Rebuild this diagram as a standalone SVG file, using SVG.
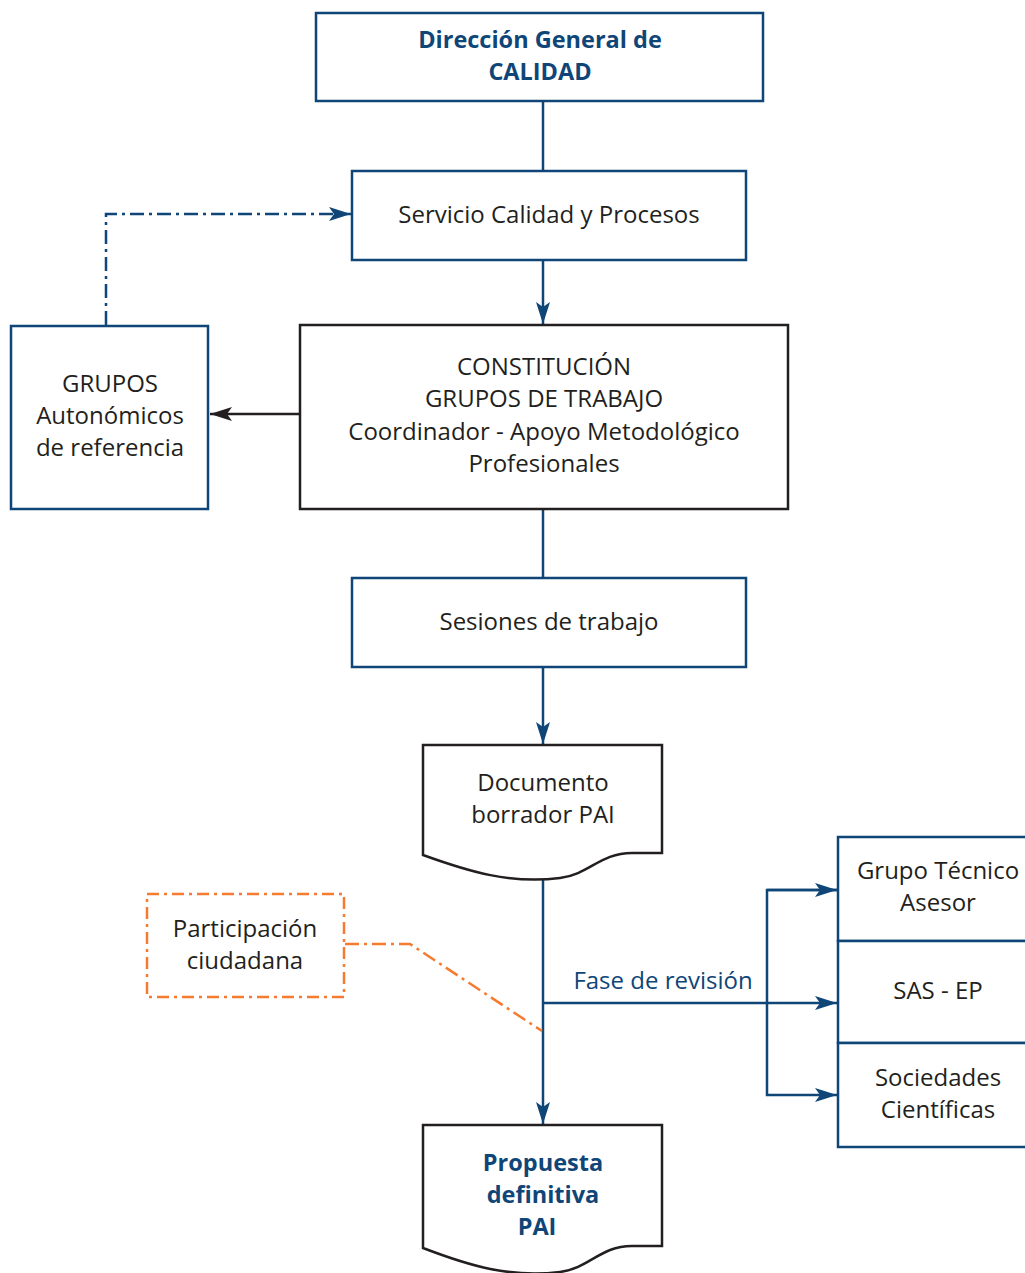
<svg xmlns="http://www.w3.org/2000/svg" width="1025" height="1273" viewBox="0 0 1025 1273">
<style>
text{font-family:"Open Sans","Noto Sans",sans-serif;font-size:24px;fill:#231f20;text-anchor:middle}
.b{fill:#0f4677;font-weight:bold;font-size:23.5px}
.bl{fill:#0f4677}
.nb{fill:#fff;stroke:#0f4677;stroke-width:2.5}
.nk{fill:#fff;stroke:#231f20;stroke-width:2.5}
.no{fill:#fff;stroke:#f47b30;stroke-width:2.5;stroke-dasharray:12 5 3 5}
.cb{fill:none;stroke:#0f4677;stroke-width:2.5}
.ck{fill:none;stroke:#231f20;stroke-width:2.5}
.cd{fill:none;stroke:#0f4677;stroke-width:2.5;stroke-dasharray:14 5 3 5}
.co{fill:none;stroke:#f47b30;stroke-width:2.5;stroke-dasharray:14 5 3 5}
</style>
<defs>
<marker id="ab" markerUnits="userSpaceOnUse" markerWidth="24" markerHeight="14" refX="22" refY="7" orient="auto"><path d="M0,0 L22,7 L0,14 L5,7 z" fill="#0f4677"/></marker>
<marker id="ak" markerUnits="userSpaceOnUse" markerWidth="24" markerHeight="14" refX="22" refY="7" orient="auto"><path d="M0,0 L22,7 L0,14 L5,7 z" fill="#231f20"/></marker>
</defs>
<g id="connectors">
<path class="cb" d="M543,101 V171"/>
<path class="cb" d="M543,260 V324" marker-end="url(#ab)"/>
<path class="ck" d="M300,414 H210" marker-end="url(#ak)"/>
<path class="cd" d="M106,325 V214 H351" marker-end="url(#ab)"/>
<path class="cb" d="M543,509 V578"/>
<path class="cb" d="M543,667 V744" marker-end="url(#ab)"/>
<path class="cb" d="M543,879 V1124" marker-end="url(#ab)"/>
<path class="cb" d="M543,1003 H837" marker-end="url(#ab)"/>
<path class="cb" d="M837,890 H767 V1095 H837" marker-end="url(#ab)"/>
<path class="cb" d="M767,890 H837" marker-end="url(#ab)"/>
<path class="co" d="M345,944 H410 L542,1031"/>
<text class="bl" x="663" y="989">Fase de revisión</text>
</g>
<g id="n1"><rect class="nb" x="316" y="13" width="447" height="88"/><text class="b" x="540" y="48">Dirección General de</text><text class="b" x="540" y="80">CALIDAD</text></g>
<g id="n2"><rect class="nb" x="352" y="171" width="394" height="89"/><text x="549" y="223">Servicio Calidad y Procesos</text></g>
<g id="n3"><rect class="nk" x="300" y="325" width="488" height="184"/><text x="544" y="375">CONSTITUCIÓN</text><text x="544" y="407">GRUPOS DE TRABAJO</text><text x="544" y="440">Coordinador - Apoyo Metodológico</text><text x="544" y="472">Profesionales</text></g>
<g id="n4"><rect class="nb" x="11" y="326" width="197" height="183"/><text x="110" y="392">GRUPOS</text><text x="110" y="424">Autonómicos</text><text x="110" y="456">de referencia</text></g>
<g id="n5"><rect class="nb" x="352" y="578" width="394" height="89"/><text x="549" y="630">Sesiones de trabajo</text></g>
<g id="n6"><path class="nk" d="M423,855 V745 H662 V853 H632 C600,853 590,874 560,878 C510,884 470,872 423,855 Z"/><text x="543" y="791">Documento</text><text x="543" y="823">borrador PAI</text></g>
<g id="n7"><rect class="no" x="147" y="894" width="197" height="103"/><text x="245" y="937">Participación</text><text x="245" y="969">ciudadana</text></g>
<g id="n8"><rect class="nb" x="838" y="837" width="200" height="104"/><text x="938" y="879">Grupo Técnico</text><text x="938" y="911">Asesor</text></g>
<g id="n9"><rect class="nb" x="838" y="941" width="200" height="102"/><text x="938" y="999">SAS - EP</text></g>
<g id="n10"><rect class="nb" x="838" y="1043" width="200" height="104"/><text x="938" y="1086">Sociedades</text><text x="938" y="1118">Científicas</text></g>
<g id="n11"><path class="nk" d="M423,1248 V1125 H662 V1246 H632 C600,1246 590,1268 560,1272 C510,1278 470,1266 423,1248 Z"/><text class="b" x="543" y="1171">Propuesta</text><text class="b" x="543" y="1203">definitiva</text><text class="b" x="537" y="1235">PAI</text></g>
</svg>
